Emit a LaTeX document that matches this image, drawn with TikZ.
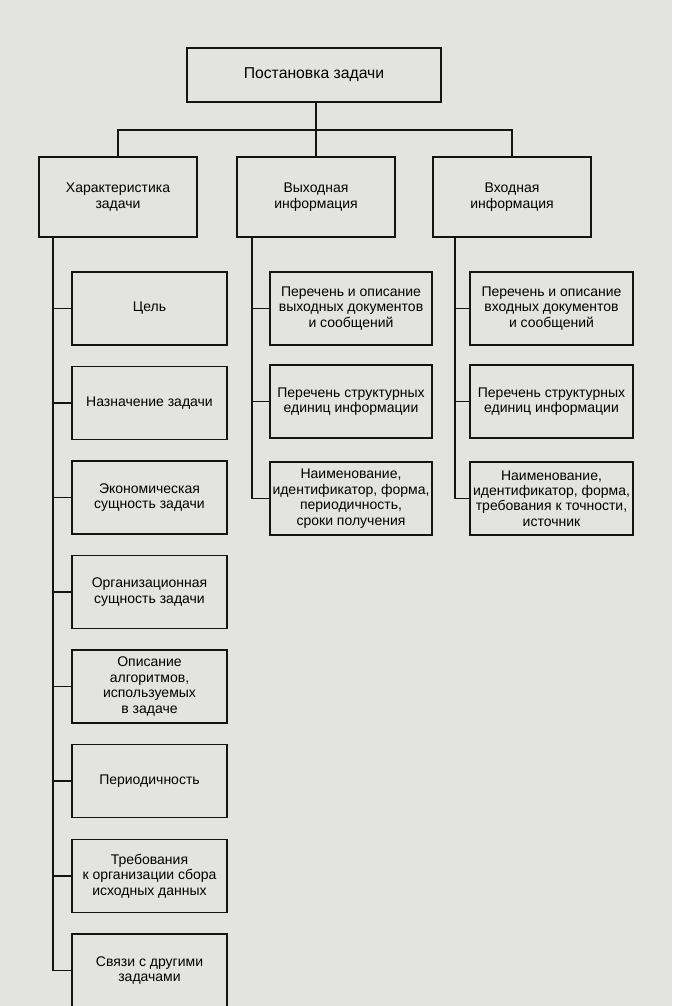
\documentclass[tikz,border=0pt]{standalone}
\usepackage{fontspec}
\setmainfont{Liberation Sans}
\usepackage{tikz}
\usetikzlibrary{positioning, calc}
\definecolor{PageGray}{HTML}{E3E3E1}
\definecolor{InkBlack}{HTML}{141414}

\begin{document}
\begin{tikzpicture}[x=0.75pt, y=-0.75pt,
    box/.style={draw=InkBlack, line width=1.3pt, align=center, inner sep=2pt,
        font=\fontsize{10.5}{11.6}\selectfont},
    topbox/.style={box, minimum width=190pt, minimum height=40.5pt, font=\fontsize{11.8}{13}\selectfont},
    headbox/.style={box, minimum width=118.5pt, minimum height=60pt},
    leftbox/.style={box, minimum width=116pt, minimum height=54.8pt},
    infobox/.style={box, minimum width=122pt, minimum height=54.8pt},
    link/.style={draw=InkBlack, line width=1.1pt}]
        % page
        \fill[PageGray] (0,0) rectangle (672,1006);
        \useasboundingbox (0,0) rectangle (672,1006);

        % top level
        \node[topbox] (task) at (314,75) {Постановка задачи};
        \coordinate (bar) at (316,130);

        \node[headbox] (char) at (118,197) {Характеристика\\задачи};
        \node[headbox] (out) at (316,197) {Выходная\\информация};
        \node[headbox] (inp) at (512,197) {Входная\\информация};

        \draw[link] (task.south -| bar) -- (bar);
        \draw[link] (char.north) |- (bar) -| (inp.north);
        \draw[link] (out.north) -- (out.north |- bar);

        % task characteristics
        \node[leftbox] (goal) at (149.5,308.5) {Цель};
        \node[leftbox] (purpose) at (149.5,403) {Назначение задачи};
        \node[leftbox] (econ) at (149.5,497.5) {Экономическая\\сущность задачи};
        \node[leftbox] (org) at (149.5,592) {Организационная\\сущность задачи};
        \node[leftbox] (algo) at (149.5,686.5) {Описание\\алгоритмов,\\используемых\\в задаче};
        \node[leftbox] (period) at (149.5,781) {Периодичность};
        \node[leftbox] (collect) at (149.5,876) {Требования\\к организации сбора\\исходных данных};
        \node[leftbox] (links) at (149.5,970.5) {Связи с другими\\задачами};

        \coordinate (charTrunk) at (53,237);
        \draw[link] (charTrunk) |- (links.west);
        \draw[link] (charTrunk |- goal.west) -- (goal.west);
        \draw[link] (charTrunk |- purpose.west) -- (purpose.west);
        \draw[link] (charTrunk |- econ.west) -- (econ.west);
        \draw[link] (charTrunk |- org.west) -- (org.west);
        \draw[link] (charTrunk |- algo.west) -- (algo.west);
        \draw[link] (charTrunk |- period.west) -- (period.west);
        \draw[link] (charTrunk |- collect.west) -- (collect.west);

        % output information
        \node[infobox] (outDocs) at (351,308.5) {Перечень и описание\\выходных документов\\и сообщений};
        \node[infobox] (outUnits) at (351,401.5) {Перечень структурных\\единиц информации};
        \node[infobox] (outAttr) at (351,498.5) {Наименование,\\идентификатор, форма,\\периодичность,\\сроки получения};

        \coordinate (outTrunk) at (252,237);
        \draw[link] (outTrunk) |- (outAttr.west);
        \draw[link] (outTrunk |- outDocs.west) -- (outDocs.west);
        \draw[link] (outTrunk |- outUnits.west) -- (outUnits.west);

        % input information
        \node[infobox] (inDocs) at (551.5,308.5) {Перечень и описание\\входных документов\\и сообщений};
        \node[infobox] (inUnits) at (551.5,401.5) {Перечень структурных\\единиц информации};
        \node[infobox] (inAttr) at (551.5,498.5) {Наименование,\\идентификатор, форма,\\требования к точности,\\источник};

        \coordinate (inTrunk) at (455,237);
        \draw[link] (inTrunk) |- (inAttr.west);
        \draw[link] (inTrunk |- inDocs.west) -- (inDocs.west);
        \draw[link] (inTrunk |- inUnits.west) -- (inUnits.west);
    \end{tikzpicture}
\end{document}
